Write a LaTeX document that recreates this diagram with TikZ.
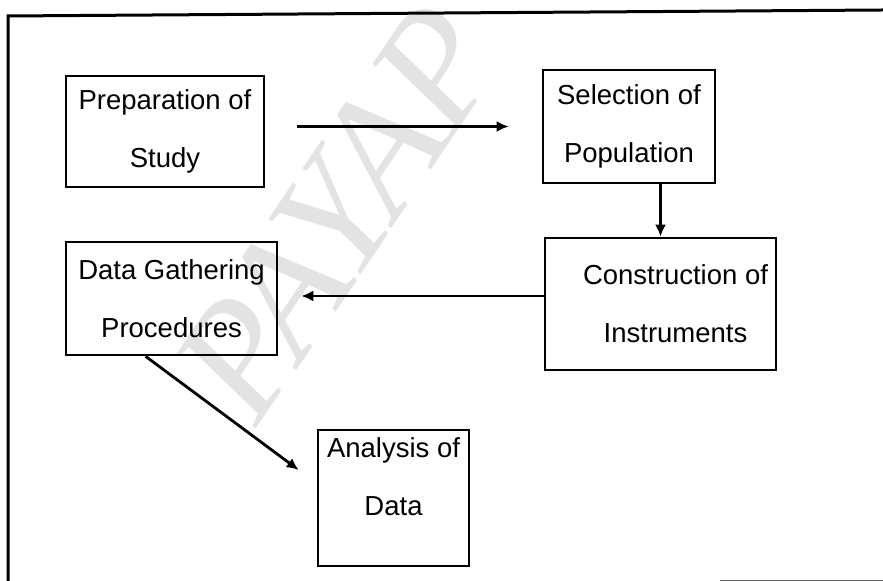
\documentclass[tikz,border=0pt]{standalone}
\usepackage{fontspec}
\setmainfont{Liberation Sans}
\newfontfamily\stampfont{Liberation Serif}
\usetikzlibrary{positioning, arrows.meta}

\begin{document}
\begin{tikzpicture}[x=0.5pt, y=-0.5pt, font=\fontsize{13.75}{29}\selectfont,
  >={Latex[length=6pt, width=5.5pt]},
  stage/.style={draw, line width=1.3pt, align=center, inner sep=2pt},
  flow/.style={->, line width=1.4pt},
  frame/.style={line width=1.5pt},
  wmark/.style={font=\stampfont\itshape\fontsize{82}{82}\selectfont,
                text=gray!22, inner sep=0pt}]
\useasboundingbox (0,0) rectangle (883,581);
% Faint watermark across the chart.
\node[wmark, rotate=56] (stamp) at (338,212) {PAYAP};
% Page frame: only the left and top edges survive, plus a scrap of the bottom.
\draw[frame] (8,581) -- (8,16) -- (883,10);
\draw[thin, black!60] (720,580) -- (883,580);
% The five stages.
\node[stage, minimum width=99pt, minimum height=55.5pt] (prep) at (165,131.5) {Preparation of\\Study};
\node[stage, minimum width=86pt, minimum height=56.5pt] (select) at (629,126.5) {Selection of\\Population};
\node[stage, minimum width=115.5pt, minimum height=66pt] (construct) at (660.5,304) {\hspace*{15pt}Construction of\\\hspace*{15pt}Instruments};
\node[stage, minimum width=105.5pt, minimum height=56.5pt] (gather) at (171.5,298.5) {Data Gathering\\Procedures};
\node[stage, minimum width=75.5pt, minimum height=68pt] (analysis) at (393.5,498) {Analysis of\\Data\rule[-21pt]{0pt}{21pt}};
% Order of the work.
\draw[flow, shorten <=16pt, shorten >=16.5pt] (prep.east |- select.west) -- (select.west);
\draw[flow] (select.south -| construct.north) -- (construct.north);
\draw[flow, shorten >=11.5pt] ([yshift=4pt]construct.west) -- ([yshift=4pt]construct.west -| gather.east);
\draw[flow] ([xshift=-13pt]gather.south) -- ([xshift=-9pt, yshift=14pt]analysis.west);
\end{tikzpicture}
\end{document}
